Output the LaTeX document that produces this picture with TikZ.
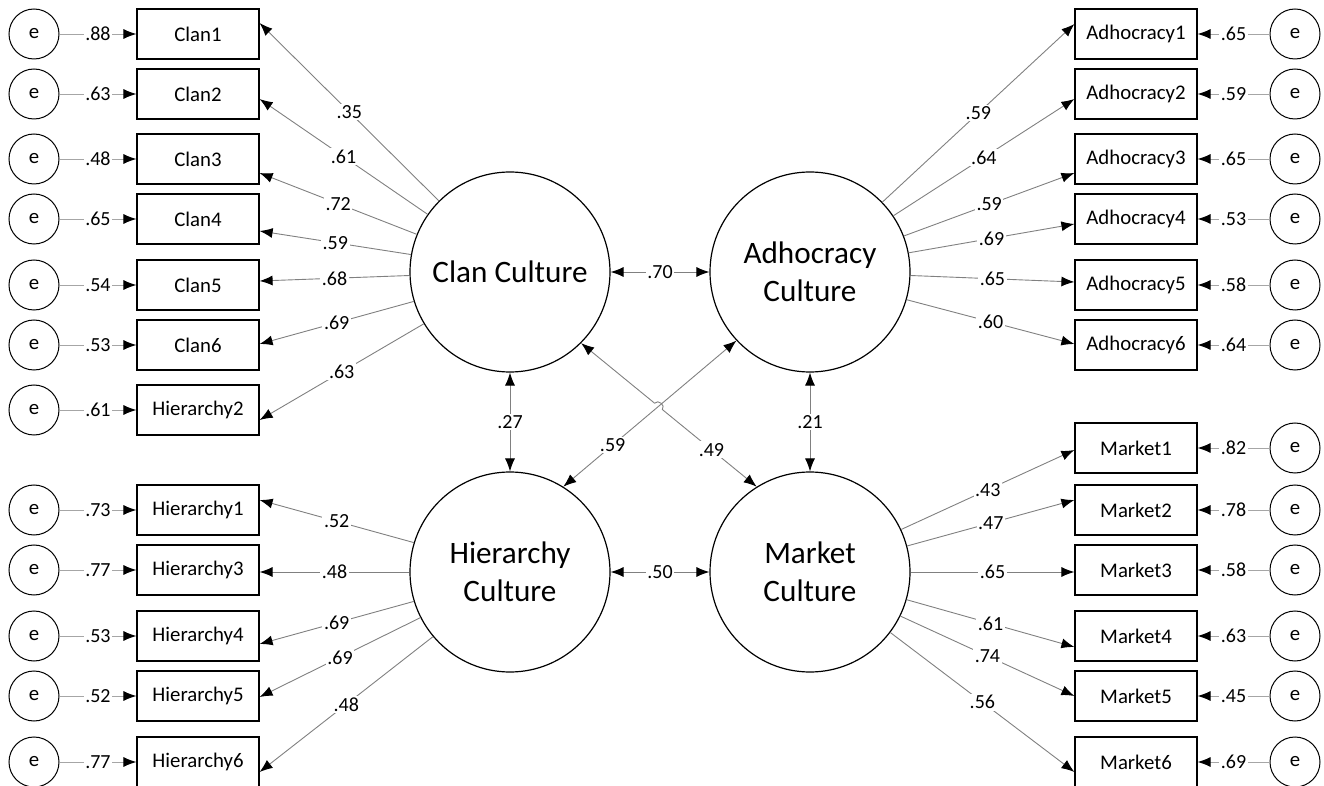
\documentclass[tikz,border=0pt]{standalone}
\usepackage{fontspec}
\setmainfont{Carlito}
\usepackage{xcolor}
\usepackage{tikz}
\usetikzlibrary{arrows.meta}
\usetikzlibrary{calc}
\usetikzlibrary{intersections}

\begin{document}
\begin{tikzpicture}[x=0.5pt,y=-0.5pt,
	facteur/.style={draw,circle,minimum size=100pt,inner sep=0pt,line width=0.6pt,align=center,font=\fontsize{15.6}{19}\selectfont},
	erreur/.style={draw,circle,minimum size=25pt,inner sep=0pt,line width=0.5pt,font=\fontsize{10.4}{12}\selectfont},
	item/.style={draw,rectangle,minimum width=61pt,minimum height=25pt,inner sep=0pt,line width=0.6pt,font=\fontsize{10.4}{12}\selectfont},
	charge/.style={draw=black!50,line width=0.45pt,-{Latex[length=6.5pt,width=5pt,color=black]}},
	resid/.style={draw=black!35,line width=0.45pt,-{Latex[length=6.5pt,width=5pt,color=black]}},
	cov/.style={draw=black!50,line width=0.45pt,{Latex[length=6.5pt,width=5pt,color=black]}-{Latex[length=6.5pt,width=5pt,color=black]}},
	coef/.style={fill=white,inner sep=0.8pt,font=\fontsize{10}{12}\selectfont}]
\useasboundingbox (0,0) rectangle (1324,786);

%facteurs latents
\node[facteur] (clan) at (510,272) {Clan Culture};
\node[facteur] (adho) at (810,272) {Adhocracy\\Culture};
\node[facteur] (hier) at (510,572) {Hierarchy\\Culture};
\node[facteur] (market) at (810,572) {Market\\Culture};

\begin{scope} %bloc gauche haut
	\node[item] (C1) at (198,34) {Clan1};
	\node[item] (C2) at (198,94) {Clan2};
	\node[item] (C3) at (198,159) {Clan3};
	\node[item] (C4) at (198,219) {Clan4};
	\node[item] (C5) at (198,285) {Clan5};
	\node[item] (C6) at (198,345) {Clan6};
	\node[item] (H2) at (198,410) {Hierarchy2};
	\node[erreur] (eC1) at (34,34) {e};
	\node[erreur] (eC2) at (34,94) {e};
	\node[erreur] (eC3) at (34,159) {e};
	\node[erreur] (eC4) at (34,219) {e};
	\node[erreur] (eC5) at (34,285) {e};
	\node[erreur] (eC6) at (34,345) {e};
	\node[erreur] (eH2) at (34,410) {e};
	\draw[resid] (eC1) -- (C1) node[coef,midway] {.88};
	\draw[resid] (eC2) -- (C2) node[coef,midway] {.63};
	\draw[resid] (eC3) -- (C3) node[coef,midway] {.48};
	\draw[resid] (eC4) -- (C4) node[coef,midway] {.65};
	\draw[resid] (eC5) -- (C5) node[coef,midway] {.54};
	\draw[resid] (eC6) -- (C6) node[coef,midway] {.53};
	\draw[resid] (eH2) -- (H2) node[coef,midway] {.61};
	\draw[charge] (clan.135) -- ($(C1.east)+(0,-11)$) node[coef,midway] {.35};
	\draw[charge] (clan.145) -- ($(C2.east)+(0,5)$) node[coef,midway] {.61};
	\draw[charge] (clan.158) -- ($(C3.east)+(0,14)$) node[coef,midway] {.72};
	\draw[charge] (clan.170) -- ($(C4.east)+(0,12)$) node[coef,midway] {.59};
	\draw[charge] (clan.182) -- ($(C5.east)+(0,-4)$) node[coef,midway] {.68};
	\draw[charge] (clan.197) -- ($(C6.east)+(0,-1)$) node[coef,midway] {.69};
	\draw[charge] (clan.211) -- ($(H2.east)+(0,10)$) node[coef,midway] {.63};
\end{scope}

\begin{scope} %bloc gauche bas
	\node[item] (H1) at (198,510) {Hierarchy1};
	\node[item] (H3) at (198,570) {Hierarchy3};
	\node[item] (H4) at (198,636) {Hierarchy4};
	\node[item] (H5) at (198,696) {Hierarchy5};
	\node[item] (H6) at (198,762) {Hierarchy6};
	\node[erreur] (eH1) at (34,510) {e};
	\node[erreur] (eH3) at (34,570) {e};
	\node[erreur] (eH4) at (34,636) {e};
	\node[erreur] (eH5) at (34,696) {e};
	\node[erreur] (eH6) at (34,762) {e};
	\draw[resid] (eH1) -- (H1) node[coef,midway] {.73};
	\draw[resid] (eH3) -- (H3) node[coef,midway] {.77};
	\draw[resid] (eH4) -- (H4) node[coef,midway] {.53};
	\draw[resid] (eH5) -- (H5) node[coef,midway] {.52};
	\draw[resid] (eH6) -- (H6) node[coef,midway] {.77};
	\draw[charge] (hier.163) -- ($(H1.east)+(0,-10)$) node[coef,midway] {.52};
	\draw[charge] (hier.180) -- ($(H3.east)+(0,2)$) node[coef,midway] {.48};
	\draw[charge] (hier.197) -- ($(H4.east)+(0,8)$) node[coef,midway] {.69};
	\draw[charge] (hier.207) -- ($(H5.east)+(0,1)$) node[coef,midway] {.69};
	\draw[charge] (hier.220) -- ($(H6.east)+(0,10)$) node[coef,midway] {.48};
\end{scope}

\begin{scope} %bloc droit haut
	\node[item] (A1) at (1136,34) {Adhocracy1};
	\node[item] (A2) at (1136,94) {Adhocracy2};
	\node[item] (A3) at (1136,159) {Adhocracy3};
	\node[item] (A4) at (1136,219) {Adhocracy4};
	\node[item] (A5) at (1136,285) {Adhocracy5};
	\node[item] (A6) at (1136,345) {Adhocracy6};
	\node[erreur] (eA1) at (1295,34) {e};
	\node[erreur] (eA2) at (1295,94) {e};
	\node[erreur] (eA3) at (1295,159) {e};
	\node[erreur] (eA4) at (1295,219) {e};
	\node[erreur] (eA5) at (1295,285) {e};
	\node[erreur] (eA6) at (1295,345) {e};
	\draw[resid] (eA1) -- (A1) node[coef,midway] {.65};
	\draw[resid] (eA2) -- (A2) node[coef,midway] {.59};
	\draw[resid] (eA3) -- (A3) node[coef,midway] {.65};
	\draw[resid] (eA4) -- (A4) node[coef,midway] {.53};
	\draw[resid] (eA5) -- (A5) node[coef,midway] {.58};
	\draw[resid] (eA6) -- (A6) node[coef,midway] {.64};
	\draw[charge] (adho.44) -- ($(A1.west)+(0,-10)$) node[coef,midway] {.59};
	\draw[charge] (adho.34) -- ($(A2.west)+(0,5)$) node[coef,midway] {.64};
	\draw[charge] (adho.21) -- ($(A3.west)+(0,14)$) node[coef,midway] {.59};
	\draw[charge] (adho.11) -- ($(A4.west)+(0,5)$) node[coef,midway] {.69};
	\draw[charge] (adho.-2) -- ($(A5.west)+(0,-3)$) node[coef,midway] {.65};
	\draw[charge] (adho.-16) -- ($(A6.west)+(0,-1)$) node[coef,midway] {.60};
\end{scope}

\begin{scope} %bloc droit bas
	\node[item] (M1) at (1136,448) {Market1};
	\node[item] (M2) at (1136,510) {Market2};
	\node[item] (M3) at (1136,570) {Market3};
	\node[item] (M4) at (1136,636) {Market4};
	\node[item] (M5) at (1136,696) {Market5};
	\node[item] (M6) at (1136,762) {Market6};
	\node[erreur] (eM1) at (1295,448) {e};
	\node[erreur] (eM2) at (1295,510) {e};
	\node[erreur] (eM3) at (1295,570) {e};
	\node[erreur] (eM4) at (1295,636) {e};
	\node[erreur] (eM5) at (1295,696) {e};
	\node[erreur] (eM6) at (1295,762) {e};
	\draw[resid] (eM1) -- (M1) node[coef,midway] {.82};
	\draw[resid] (eM2) -- (M2) node[coef,midway] {.78};
	\draw[resid] (eM3) -- (M3) node[coef,midway] {.58};
	\draw[resid] (eM4) -- (M4) node[coef,midway] {.63};
	\draw[resid] (eM5) -- (M5) node[coef,midway] {.45};
	\draw[resid] (eM6) -- (M6) node[coef,midway] {.69};
	\draw[charge] (market.25) -- ($(M1.west)+(0,2)$) node[coef,midway] {.43};
	\draw[charge] (market.15) -- ($(M2.west)+(0,-10)$) node[coef,midway] {.47};
	\draw[charge] (market.0) -- ($(M3.west)+(0,2)$) node[coef,midway] {.65};
	\draw[charge] (market.-16) -- ($(M4.west)+(0,11)$) node[coef,midway] {.61};
	\draw[charge] (market.-26) -- ($(M5.west)+(0,0)$) node[coef,midway] {.74};
	\draw[charge] (market.-37) -- ($(M6.west)+(0,10)$) node[coef,midway] {.56};
\end{scope}

%covariances
\draw[cov] (clan) -- (adho) node[coef,midway] {.70};
\draw[cov] (clan) -- (hier) node[coef,midway] {.27};
\draw[cov] (adho) -- (market) node[coef,midway] {.21};
\draw[cov] (hier) -- (market) node[coef,midway] {.50};
\draw[cov] (adho.223) -- (hier.58) node[coef,pos=0.715] {.59};
%petit saut au croisement
\path[name path=diagA] (adho.223) -- (hier.58);
\path[name path=diagB] (clan.-45) -- (market.122);
\path[name intersections={of=diagA and diagB,by=X}];
\draw[cov] (clan.-45) -- ($(X)!2.5pt!(clan.-45)$) to[bend left=90,looseness=1.4] ($(X)!2.5pt!(market.122)$) -- (market.122) node[coef,pos=0.52] {.49};

\end{tikzpicture}
\end{document}
